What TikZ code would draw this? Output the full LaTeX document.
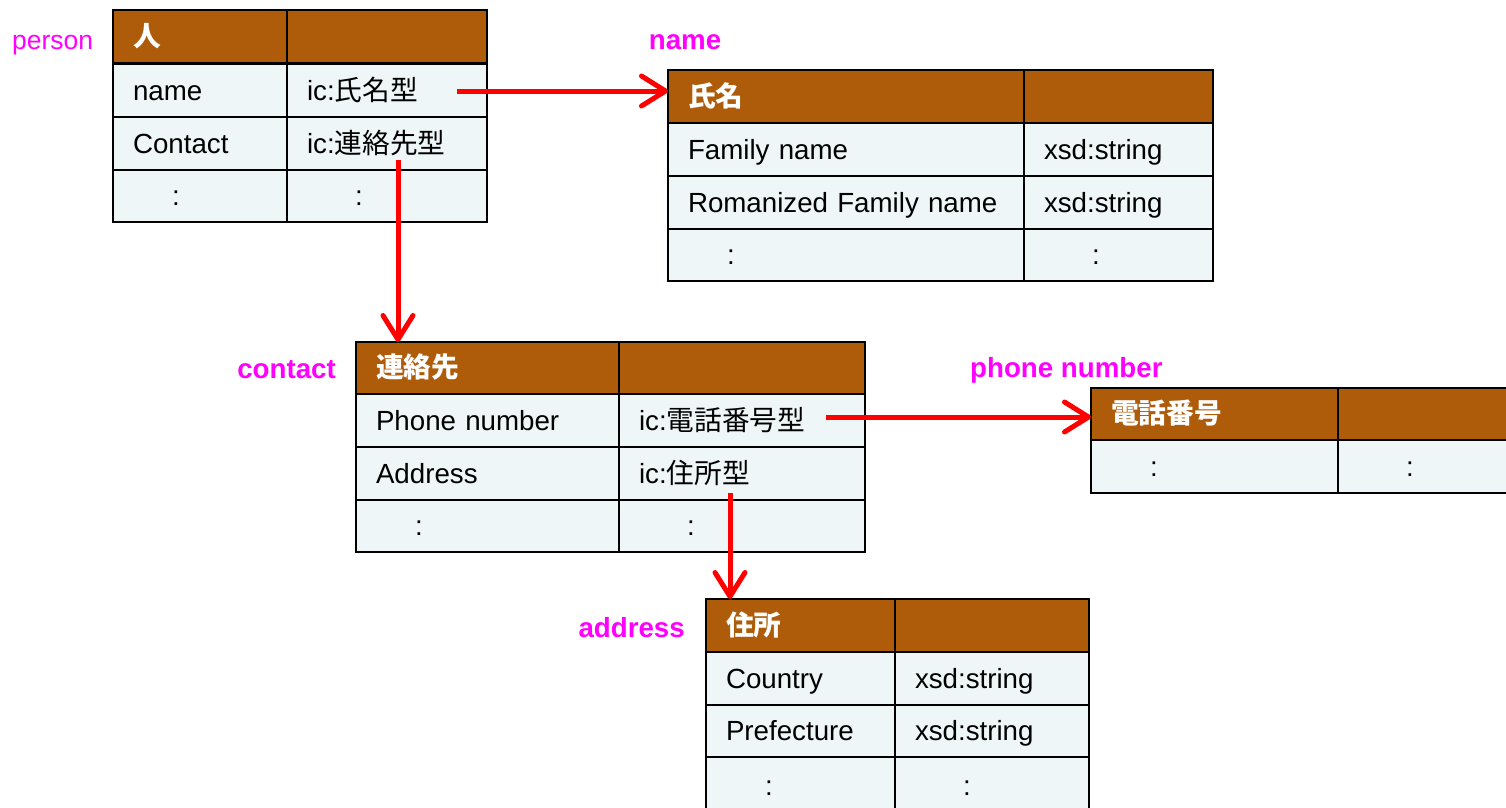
\documentclass[tikz,border=0pt]{standalone}
\usepackage{fontspec}
\setmainfont{Liberation Sans}
\newfontfamily\cjk{Noto Sans CJK JP}
\usetikzlibrary{arrows.meta,calc}
\definecolor{hdr}{RGB}{174,92,10}
\definecolor{rowbg}{RGB}{239,246,248}
\definecolor{mag}{RGB}{255,0,255}
\begin{document}
\begin{tikzpicture}[x=1pt,y=-1pt,
  cell/.style={draw=black, line width=2.5pt, anchor=north west, outer sep=0pt,
    inner xsep=20pt, inner ysep=0pt, minimum height=53pt, align=left,
    text height=19pt, text depth=0pt, fill=rowbg,
    font=\fontsize{27.7}{32}\selectfont},
  hcell/.style={cell, fill=hdr, text=white, font=\fontsize{27.7}{32}\selectfont\bfseries\cjk},
  lbl/.style={text=mag, inner sep=0pt, font=\fontsize{27.7}{32}\selectfont\bfseries},
  arr/.style={draw=red, line width=5pt,
    -{Straight Barb[length=24pt,width=30pt,round]}}
]
\useasboundingbox (0,0) rectangle (1506,807);
\clip (0,0) rectangle (1506,807);

% ---------- table 1 : person ----------
\node[hcell, text width=134pt] (t1h1) at (113,10) {人};
\node[hcell, text width=160pt] (t1h2) at (287,10) {};
\node[cell, text width=134pt] (t1a1) at (113,64) {name};
\node[cell, text width=160pt] (t1b1) at (287,64) {ic:{\cjk 氏名型}};
\node[cell, text width=134pt] (t1a2) at (113,117) {Contact};
\node[cell, text width=160pt] (t1b2) at (287,117) {ic:{\cjk 連絡先型}};
\node[cell, text width=134pt, minimum height=52pt] (t1a3) at (113,170) {\hspace*{39pt}:};
\node[cell, text width=160pt, minimum height=52pt] (t1b3) at (287,170) {\hspace*{48pt}:};

% ---------- table 2 : name ----------
\node[hcell, text width=316pt] (t2h1) at (668,70) {氏名};
\node[hcell, text width=149pt] (t2h2) at (1024,70) {};
\node[cell, text width=316pt] (t2a1) at (668,123) {Family name};
\node[cell, text width=149pt] (t2b1) at (1024,123) {xsd:string};
\node[cell, text width=316pt] (t2a2) at (668,176) {Romanized Family name};
\node[cell, text width=149pt] (t2b2) at (1024,176) {xsd:string};
\node[cell, text width=316pt, minimum height=52pt] (t2a3) at (668,229) {\hspace*{39pt}:};
\node[cell, text width=149pt, minimum height=52pt] (t2b3) at (1024,229) {\hspace*{48pt}:};

% ---------- table 3 : contact ----------
\node[hcell, text width=223pt, minimum height=52pt] (t3h1) at (356,342) {連絡先};
\node[hcell, text width=206pt, minimum height=52pt] (t3h2) at (619,342) {};
\node[cell, text width=223pt] (t3a1) at (356,394) {Phone number};
\node[cell, text width=206pt] (t3b1) at (619,394) {ic:{\cjk 電話番号型}};
\node[cell, text width=223pt] (t3a2) at (356,447) {Address};
\node[cell, text width=206pt] (t3b2) at (619,447) {ic:{\cjk 住所型}};
\node[cell, text width=223pt, minimum height=52pt] (t3a3) at (356,500) {\hspace*{39pt}:};
\node[cell, text width=206pt, minimum height=52pt] (t3b3) at (619,500) {\hspace*{48pt}:};

% ---------- table 4 : phone number ----------
\node[hcell, text width=207pt, minimum height=52pt] (t4h1) at (1091,388) {電話番号};
\node[hcell, text width=162pt, minimum height=52pt] (t4h2) at (1338,388) {};
\node[cell, text width=207pt] (t4a1) at (1091,440) {\hspace*{39pt}:};
\node[cell, text width=162pt] (t4b1) at (1338,440) {\hspace*{48pt}:};

% ---------- table 5 : address ----------
\node[hcell, text width=149pt] (t5h1) at (706,599) {住所};
\node[hcell, text width=154pt] (t5h2) at (895,599) {};
\node[cell, text width=149pt] (t5a1) at (706,652) {Country};
\node[cell, text width=154pt] (t5b1) at (895,652) {xsd:string};
\node[cell, text width=149pt, minimum height=52pt] (t5a2) at (706,705) {Prefecture};
\node[cell, text width=154pt, minimum height=52pt] (t5b2) at (895,705) {xsd:string};
\node[cell, text width=149pt, minimum height=58pt] (t5a3) at (706,757) {\hspace*{39pt}:};
\node[cell, text width=154pt, minimum height=58pt] (t5b3) at (895,757) {\hspace*{48pt}:};

% ---------- labels ----------
\node[lbl, anchor=west, font=\fontsize{26.5}{30}\selectfont] (lperson) at (12,45) {person};
\node[lbl] (lname) at (685,42) {name};
\node[lbl, anchor=east] (lcontact) at (336,370) {contact};
\node[lbl, anchor=west] (lphone) at (970,370) {phone number};
\node[lbl, anchor=east] (laddress) at (685,628) {address};

% ---------- connectors ----------
\coordinate (s1) at (457,91);
\coordinate (s2) at (398,160);
\coordinate (s3) at (826,417);
\coordinate (s4) at (730,493);
\draw[arr] (s1) -- (s1 -| t2h1.west);
\draw[arr] (s2) -- (s2 |- t3h1.north);
\draw[arr] (s3) -- (s3 -| t4h1.west);
\draw[arr] (s4) -- (s4 |- t5h1.north);
\end{tikzpicture}
\end{document}
